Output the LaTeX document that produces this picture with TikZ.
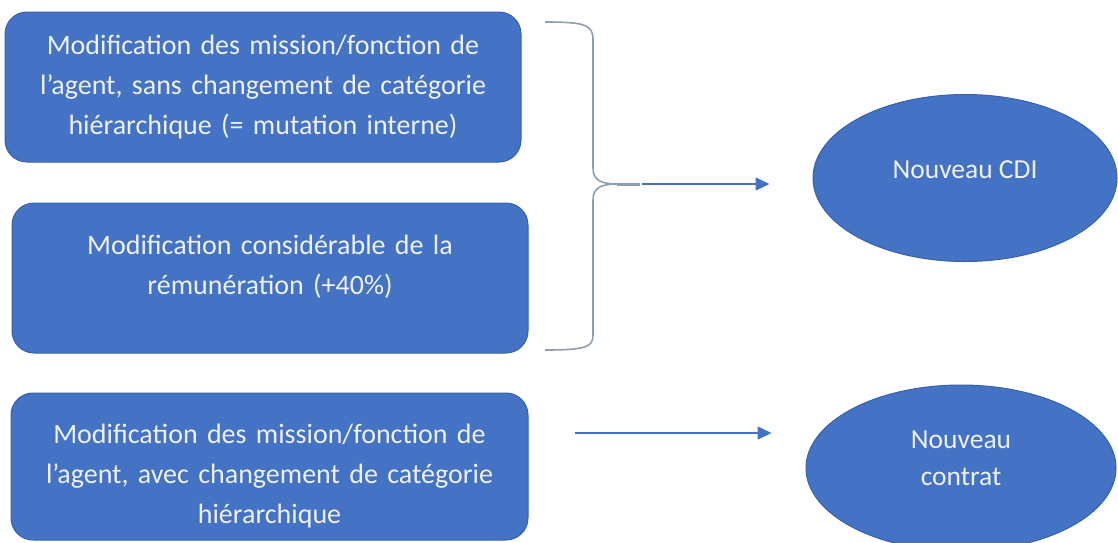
\documentclass[tikz,border=0pt]{standalone}
\usepackage{fontspec}
\setmainfont{Carlito}
\usetikzlibrary{shapes.geometric,arrows.meta}
\definecolor{boxblue}{HTML}{4472C4}
\definecolor{boxline}{HTML}{3761AC}
\definecolor{bracegray}{HTML}{8E9DB0}
\definecolor{txt}{HTML}{EEF1F6}
\tikzset{
  box/.style={draw=boxline, line width=1pt, fill=boxblue, rounded corners=22pt,
    text=txt, align=center, inner sep=0pt, text width=512pt,
    font=\fontsize{28}{40}\selectfont},
  oval/.style={ellipse, draw=boxline, line width=1pt, fill=boxblue, text=txt,
    align=center, inner sep=0pt, font=\fontsize{27.5}{37}\selectfont},
  bracestyle/.style={draw=bracegray, line width=1.6pt},
  link/.style={draw=boxblue, line width=1.6pt, -{Triangle[length=14pt,width=13pt]}}
}
\begin{document}
\begin{tikzpicture}[x=1pt,y=-1pt]
\useasboundingbox (0,0) rectangle (1118,542);
% boxes
\node[box, minimum width=516pt, minimum height=150pt] (b1) at (263,87)
  {Modification des mission/fonction de\\l’agent, sans changement de catégorie\\hiérarchique (= mutation interne)};
\node[box, minimum width=516pt, minimum height=150pt] (b2) at (270,278)
  {\raisebox{11pt}[\height][\depth]{\parbox{510pt}{\centering Modification considérable de la\\rémunération (+40\%)}}};
\node[box, minimum width=517pt, minimum height=147pt] (b3) at (269.5,466.5)
  {\raisebox{-10pt}[\height][\depth]{\parbox{510pt}{\centering Modification des mission/fonction de\\l’agent, avec changement de catégorie\\hiérarchique}}};
% ellipses
\node[oval, minimum width=304pt, minimum height=167pt] (e1) at (965,178)
  {\raisebox{8pt}[\height][\depth]{Nouveau CDI}};
\node[oval, minimum width=310pt, minimum height=166pt] (e2) at (961,468)
  {\raisebox{10pt}[\height][\depth]{\parbox{200pt}{\centering Nouveau\\contrat}}};
% brace
\coordinate (bt) at (642,184);
\draw[bracestyle] (545,22) .. controls (586,22) and (593,25) .. (593,40)
  -- (593,168) .. controls (593,180) and (601,184) .. (617,184)
  .. controls (601,184) and (593,188) .. (593,200)
  -- (593,335) .. controls (593,347) and (586,350) .. (545,350);
\draw[draw=bracegray, line width=3pt] (617,184) -- (640,184);
% arrows
\draw[link, shorten >=43pt] (bt) -- (bt -| e1.west);
\coordinate (a2) at (575,433);
\draw[link, shorten >=34pt] (a2) -- (a2 -| e2.west);
\end{tikzpicture}
\end{document}
